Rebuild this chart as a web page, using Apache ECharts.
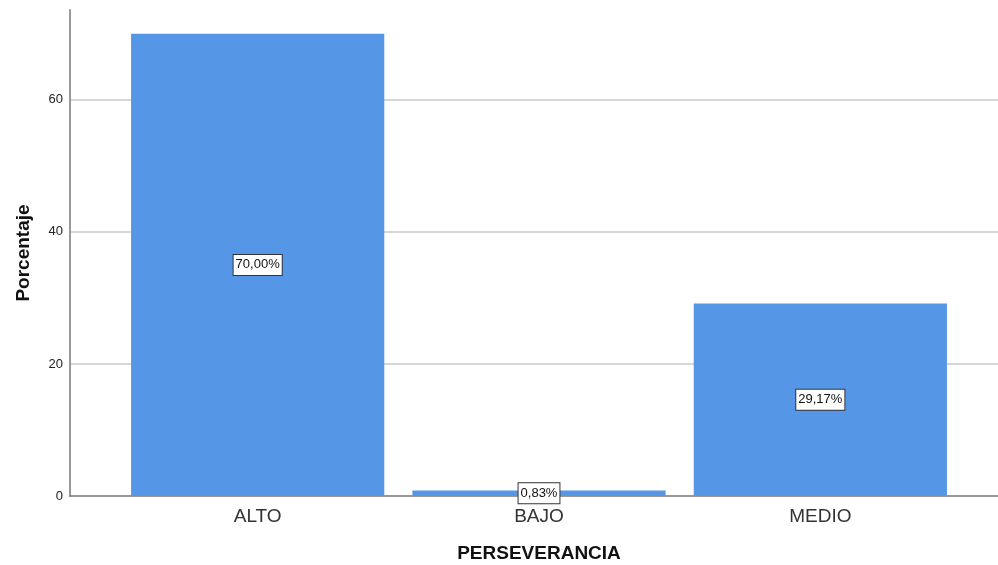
<!DOCTYPE html>
<html>
<head>
<meta charset="utf-8">
<script src="https://cdn.jsdelivr.net/npm/echarts@6/dist/echarts.min.js"></script>
<style>html,body{margin:0;padding:0;background:#fff;}#c{width:998px;height:565px;}</style>
</head>
<body>
<div id="c"></div>
<script>
const categories = ['ALTO', 'BAJO', 'MEDIO'];
const values = [70.00, 0.83, 29.17];
const valueLabels = ['70,00%', '0,83%', '29,17%'];
const yTicks = [0, 20, 40, 60];

const FONT = 'Liberation Sans, Arial, sans-serif';
const chart = echarts.init(document.getElementById('c'), null, {renderer: 'canvas'});
const yMax = 73.6;
chart.setOption({
  animation: false,
  backgroundColor: '#ffffff',
  grid: [
    {left: 70, right: 0, top: 10, bottom: 69, containLabel: false, outerBoundsMode: 'none'},
    {left: 117, right: 37, top: 10, bottom: 69, containLabel: false, outerBoundsMode: 'none'}
  ],
  xAxis: [
    {type: 'value', gridIndex: 0, min: 0, max: 1,
     axisLine: {show: true, onZero: false, lineStyle: {color: '#777', width: 1.5}},
     axisTick: {show: false}, axisLabel: {show: false}, splitLine: {show: false}},
    {type: 'category', gridIndex: 1, data: categories,
     axisLine: {show: false}, axisTick: {show: false},
     axisLabel: {color: '#333', fontSize: 19, fontFamily: FONT, margin: 11},
     name: 'PERSEVERANCIA', nameLocation: 'middle', nameGap: 48,
     nameTextStyle: {color: '#111', fontSize: 19, fontWeight: 'bold', fontFamily: FONT}
    }
  ],
  yAxis: [
    {type: 'value', gridIndex: 0, min: 0, max: yMax, interval: 20,
     axisLine: {show: true, lineStyle: {color: '#999', width: 2}},
     axisTick: {show: false},
     axisLabel: {color: '#222', fontSize: 13, fontFamily: FONT, margin: 7, showMaxLabel: false,
       formatter: v => (yTicks.indexOf(v) >= 0 ? String(v) : '')},
     splitLine: {show: true, showMaxLine: false, showMinLine: false, lineStyle: {color: '#c8c8c8', width: 1.5}},
     name: 'Porcentaje', nameLocation: 'middle', nameGap: 37, nameRotate: 90,
     nameTextStyle: {color: '#111', fontSize: 19, fontWeight: 'bold', fontFamily: FONT}
    },
    {type: 'value', gridIndex: 1, min: 0, max: yMax, show: false, splitLine: {show: false}}
  ],
  series: [
    {type: 'bar', xAxisIndex: 1, yAxisIndex: 1, data: values, barWidth: '90%',
     itemStyle: {color: '#5596e6'}, z: 3,
     label: {show: true, position: 'inside',
       formatter: p => valueLabels[p.dataIndex],
       color: '#111', fontSize: 13, fontFamily: FONT,
       backgroundColor: '#fff', borderColor: '#333', borderWidth: 1, padding: [4, 2, 3, 2]}
    }
  ]
});
</script>
</body>
</html>
